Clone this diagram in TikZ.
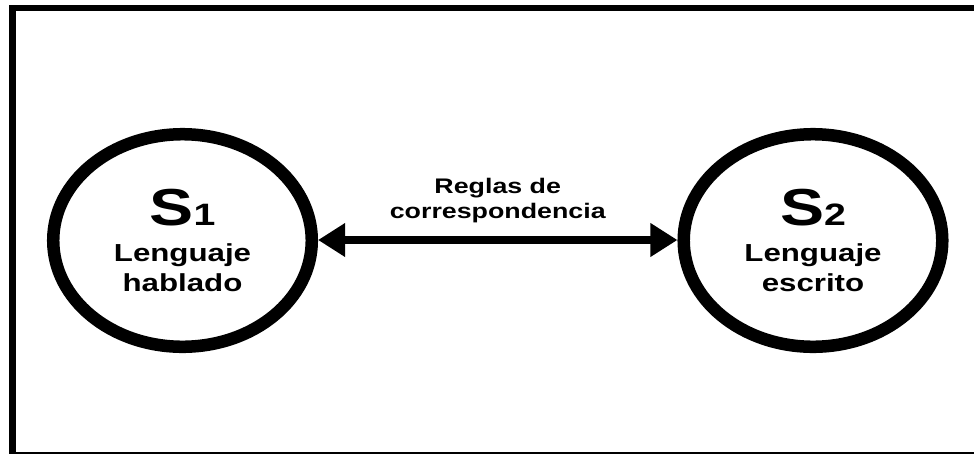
\documentclass[tikz,border=0pt]{standalone}
\usepackage{fontspec}
\newfontfamily\arialfont{Liberation Sans}[FakeStretch=1.27]
\usetikzlibrary{arrows.meta,shapes.geometric,positioning}
\newcommand{\bigsub}[2]{{\fontsize{37}{37}\selectfont #1}{\fontsize{22}{22}\selectfont #2}}

\begin{document}
\begin{tikzpicture}
[x=0.025cm,y=-0.025cm,
frame/.style={line width=0.1625cm,black},
lang/.style={shape=ellipse,draw,line width=0.3125cm,inner sep=0pt,
  minimum width=6.4625cm,minimum height=5.3125cm,align=center,
  font=\arialfont\bfseries\fontsize{17.5}{21.3}\selectfont},
rule/.style={align=center,inner sep=0pt,
  font=\arialfont\bfseries\fontsize{15}{17.8}\selectfont},
myedge/.style={line width=0.2cm,{Triangle[length=0.675cm,width=0.8cm]}-{Triangle[length=0.675cm,width=0.8cm]}}]
%
\useasboundingbox (0,0) rectangle (974,454);
\clip (0,0) rectangle (974,454);
\draw[frame] (12.7,8) rectangle (990,455.5);
%
\node (s1) [lang] at (182.5,240.5) {\bigsub{S}{1}\\[4.5pt] Lenguaje\\ hablado};
\node (s2) [lang] at (813,240.5) {\bigsub{S}{2}\\[4.5pt] Lenguaje\\ escrito};
%
\draw[myedge] (s1.east |- 0,240) -- node (rules) [rule,above=9pt] {Reglas de\\ correspondencia} (s2.west |- 0,240);
\end{tikzpicture}
\end{document}
